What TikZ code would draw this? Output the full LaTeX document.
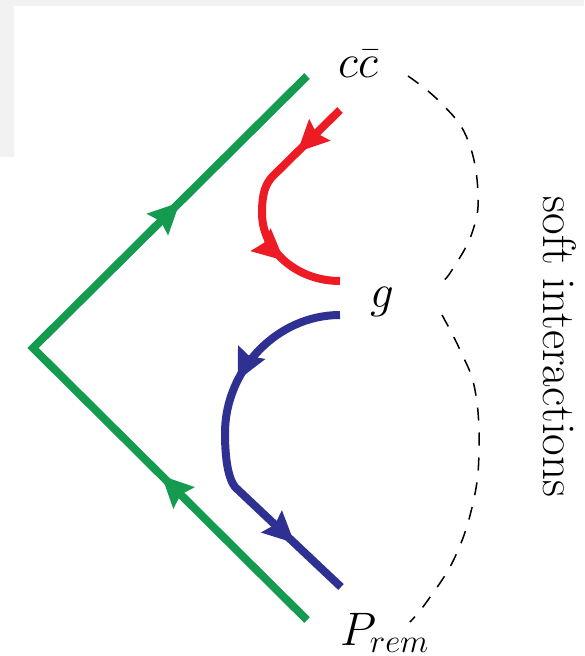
\RequirePackage{fix-cm}
\documentclass[tikz,border=0pt]{standalone}
\usetikzlibrary{arrows.meta,decorations.markings}
\definecolor{fgreen}{RGB}{20,155,80}
\definecolor{fred}{RGB}{237,28,36}
\definecolor{fblue}{RGB}{46,49,146}
\tikzset{
  qarr/.tip={Stealth[length=31pt,width=29pt,inset=4pt]},
  qline/.style={line width=8pt},
  lbl/.style={inner sep=0pt, font=\fontsize{47}{56}\selectfont},
  soft/.style={black, line width=1.5pt, dash pattern=on 13pt off 12pt},
  markat2/.style 2 args={postaction={decorate}, decoration={markings,
     mark=at position #1 with {\arrow{qarr}}, mark=at position #2 with {\arrow{qarr}}}}
}
\begin{document}
\begin{tikzpicture}[x=1pt,y=-1pt]
\useasboundingbox (0,0) rectangle (584,656);
\fill[black!5] (0,0) rectangle (584,6);
\fill[black!5] (0,0) rectangle (14,157);
% labels
\node[lbl, anchor=base] (cc) at (358,77) {$c\bar c$};
\node[lbl, anchor=base] (g) at (382,307) {$g$};
\node[lbl, anchor=base west] (P) at (340,645) {$P_{rem}$};
\node[lbl, anchor=base, rotate=-90] (softlbl) at (543,347) {soft interactions};
% green
\coordinate (V) at (33,348);
\coordinate (U) at (307,76);
\coordinate (L) at (307,620);
\draw[qline, fgreen, line join=miter, markat2={205pt}{593pt}] (L) -- (V) -- (U);
% red
\coordinate (R1) at (340,110);
\coordinate (R2) at (272,177);
\coordinate (R3) at (340,281);
\draw[qline, fred, markat2={60pt}{188pt}] (R1) -- (R2)
   .. controls (266,184) and (262,192) .. (262,213)
   .. controls (262,251) and (297,281) .. (R3);
% blue
\coordinate (B1) at (340,315);
\coordinate (B2) at (235,487);
\coordinate (B3) at (341,587);
\draw[qline, fblue, markat2={128pt}{320pt}] (B1)
   .. controls (277,315) and (225,370) .. (225,433)
   .. controls (225,458) and (228,478) .. (B2) -- (B3);
% soft interactions
\draw[soft] plot[smooth, tension=0.7] coordinates {(408,76) (440,102) (467,138) (478,192) (472,233) (452,270) (443,281)};
\draw[soft] plot[smooth, tension=0.7] coordinates {(442,315) (460,350) (475,390) (479,450) (473,503) (455,557) (428,600) (410,622)};
\end{tikzpicture}
\end{document}
